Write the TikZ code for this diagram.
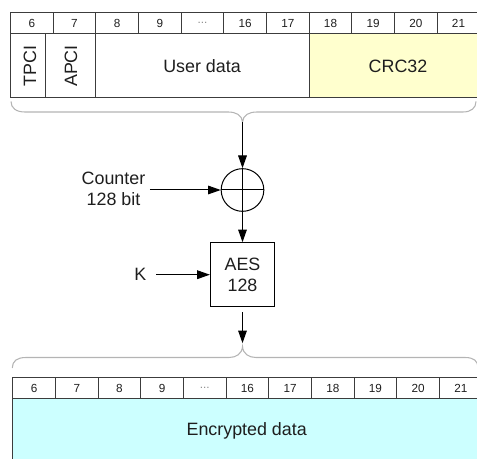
\documentclass[tikz,border=0pt]{standalone}
\usepackage{fontspec}
\setmainfont{Liberation Sans}
\usepackage{graphicx}
\usetikzlibrary{arrows.meta}
\definecolor{crcyellow}{RGB}{255,255,206}
\definecolor{enccyan}{RGB}{204,255,255}
\definecolor{gridline}{RGB}{60,60,60}
\definecolor{bracegray}{RGB}{180,180,180}
\definecolor{dotgray}{RGB}{140,140,140}
\definecolor{inktext}{RGB}{30,30,30}
\begin{document}
\begin{tikzpicture}[x=0.75pt,y=-0.75pt,
  every node/.style={text=inktext},
  hdr/.style={draw=gridline, line width=0.75pt, minimum width=32pt, minimum height=15.75pt,
    inner sep=0pt, anchor=north west, font=\fontsize{8.8}{10}\selectfont},
  bodycell/.style={draw=gridline, line width=0.75pt, minimum height=47.5pt, inner sep=0pt, anchor=north west},
  big/.style={font=\fontsize{13.4}{15.6}\selectfont},
  arr/.style={-{Triangle[length=9.5pt,width=6.5pt]}, line width=0.75pt, draw=black},
  bracestyle/.style={draw=bracegray, line width=0.8pt},
]
\useasboundingbox (0,0) rectangle (477,459);
\clip (0,0) rectangle (477,459);

% ---------- top frame ----------
\node[bodycell, minimum width=26.25pt] (tpcicell) at (10,33.3) {};
\node[bodycell, minimum width=37.75pt] (apcicell) at (45,33.3) {};
\node[bodycell, minimum width=160pt] (usercell) at (95.3,33.3) {};
\node[bodycell, minimum width=128pt, fill=crcyellow] (crccell) at (308.7,33.3) {};
\foreach \lab [count=\i from 0] in {6,7,8,9,{\textcolor{dotgray}{...}},16,17,18,19,20,21}
  \node[hdr] (th\i) at ({10+42.667*\i},12.3) {\lab};

\node[big, rotate=90] (tpci) at (30,66) {TPCI};
\node[big, rotate=90] (apci) at (71,66) {APCI};
\node[big, anchor=base] (user) at (202,73) {User data};
\node[big, anchor=base] (crc) at (398,73) {CRC32};

% top brace
\coordinate (ttip) at (242.5,122);
\draw[bracestyle] (11,101.5) .. controls (11,108) and (16,112) .. (25,112) -- (228,112)
  .. controls (236,112) and (242,115) .. (ttip)
  .. controls (243,115) and (249,112) .. (257,112) -- (463,112)
  .. controls (471,112) and (476,108) .. (476,101.5);

% ---------- middle ----------
\node[draw=black, line width=0.75pt, circle, minimum size=32pt, inner sep=0pt] (xor) at (242.5,190) {};
\draw[line width=0.75pt] (xor.north) -- (xor.south);
\draw[line width=0.75pt] (xor.west) -- (xor.east);

\node[big, align=center] (counter) at (113.5,189) {Counter\\128 bit};

\node[draw=black, line width=0.75pt, minimum width=48.2pt, minimum height=48pt, inner sep=0pt,
  big, align=center] (aes) at (242.5,274.7) {AES\\128};

\node[big, anchor=base] (k) at (140.3,280) {K};

\draw[arr] (ttip) -- (xor.north);
\draw[arr] (counter.east |- xor.west) -- (xor.west);
\draw[arr] (xor.south) -- (aes.north);
\draw[arr, shorten <=4pt] (k.east |- aes.west) -- (aes.west);

% bottom brace
\coordinate (btip) at (242.5,346.5);
\draw[arr, shorten <=3.75pt, shorten >=2.5pt] (aes.south) -- (btip);
\draw[bracestyle] (12.3,368) .. controls (12.3,361) and (17,357.5) .. (26,357.5) -- (229,357.5)
  .. controls (236,357.5) and (242,354) .. (btip)
  .. controls (243,354) and (249,357.5) .. (256,357.5) -- (465,357.5)
  .. controls (474,357.5) and (478,361) .. (478,368);

% ---------- bottom frame ----------
\node[bodycell, minimum width=352pt, fill=enccyan] (enccell) at (12.3,398.3) {};
\foreach \lab [count=\i from 0] in {6,7,8,9,{\textcolor{dotgray}{...}},16,17,18,19,20,21}
  \node[hdr, minimum height=16.2pt] (bh\i) at ({12.3+42.667*\i},376.7) {\lab};
\node[big, anchor=base] (enc) at (246.7,435) {Encrypted data};
\end{tikzpicture}
\end{document}
